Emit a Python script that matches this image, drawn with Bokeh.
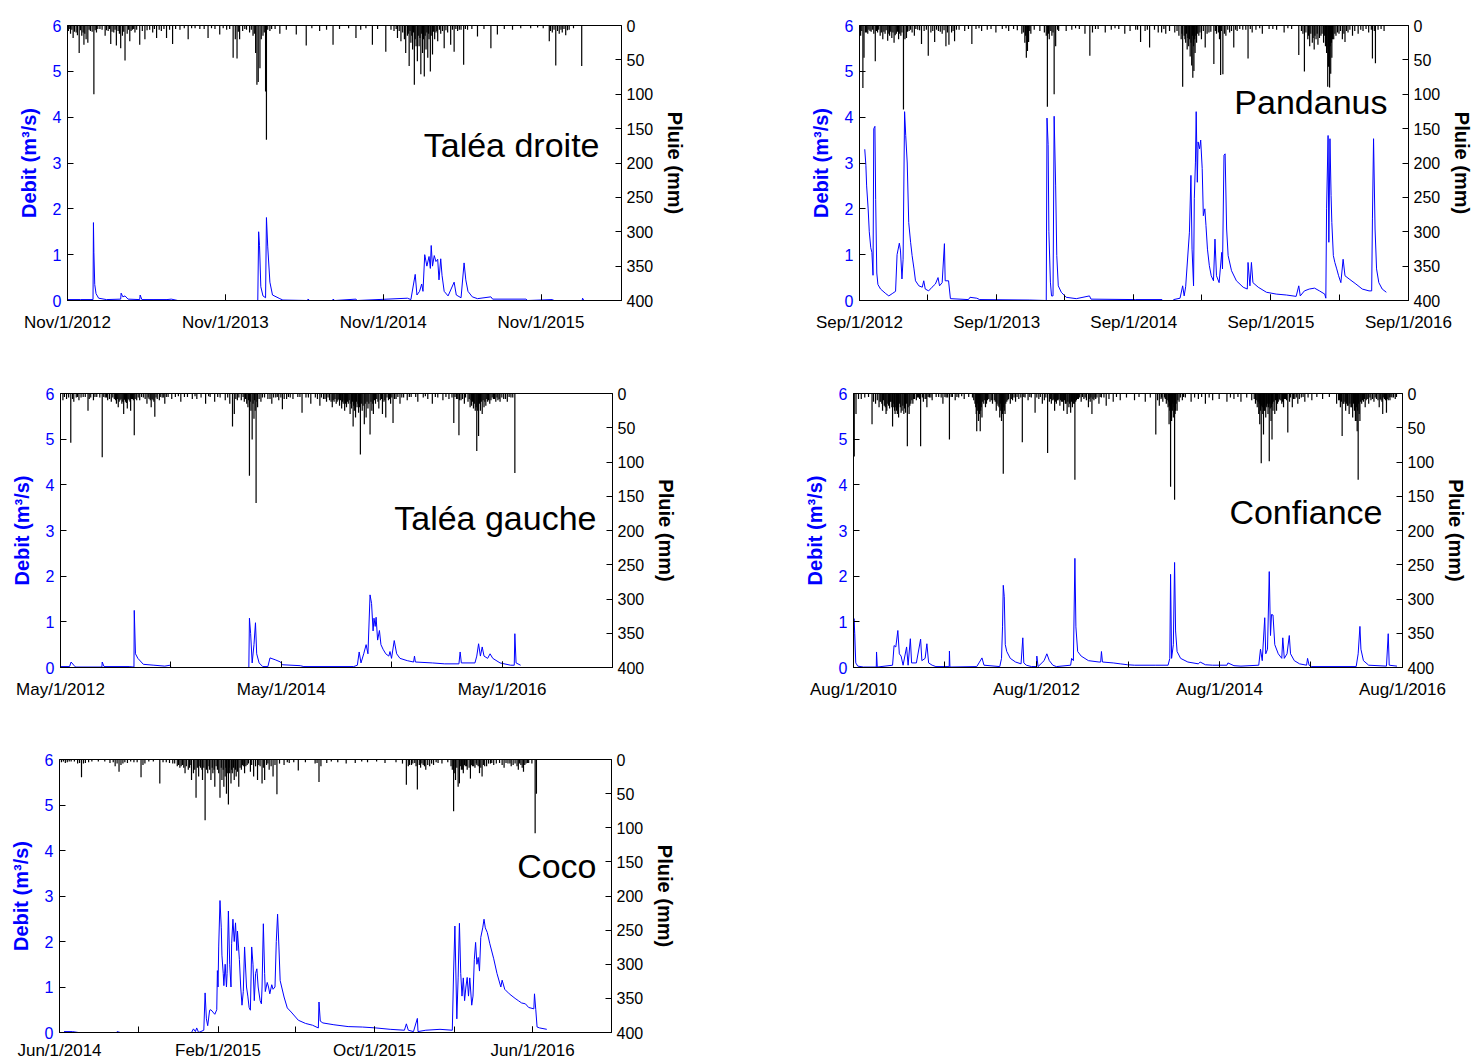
import pandas as pd
from bokeh.plotting import figure
from bokeh.models import Range1d, LinearAxis, FixedTicker, DatetimeTickFormatter, Label
from bokeh.layouts import row, column
from bokeh.embed import file_html
from bokeh.resources import INLINE

FONT = "Liberation Sans"
BLUE = "#0000ff"

# ---------------- DATA (day offset from record start, value) ----------------
stations = ["Taléa droite", "Pandanus", "Taléa gauche", "Confiance", "Coco"]
record_start = ["2012-11-01", "2012-09-01", "2012-05-01", "2010-08-01", "2014-06-01"]

talea_droite_debit = [
    (0, 0.02), (30, 0.02), (59, 0.02), (60, 1.70), (61, 1.05), (63, 0.35), (66, 0.15), (72, 0.05), (90, 0.02),
    (123, 0.03), (124, 0.16), (128, 0.08), (133, 0.10), (140, 0.03), (167, 0.02), (168, 0.12), (172, 0.02),
    (200, 0.02), (230, 0.02), (240, 0.03), (255, 0.0), (440, 0.0), (442, 1.50), (444, 1.20), (447, 0.30),
    (452, 0.10), (458, 0.06), (460, 1.81), (463, 1.17), (468, 0.40), (474, 0.12), (491, 0.04), (498, 0.01),
    (555, 0.0), (556, 0.03), (560, 0.0), (613, 0.0), (614, 0.03), (618, 0.0), (667, 0.03), (670, 0.0),
    (786, 0.05), (794, 0.02), (804, 0.57), (808, 0.12), (814, 0.20), (819, 0.36), (822, 0.20), (826, 1.00),
    (831, 0.75), (836, 0.96), (839, 0.70), (841, 1.20), (844, 0.75), (848, 0.98), (852, 0.85), (856, 0.90),
    (859, 0.45), (863, 0.91), (866, 0.55), (871, 0.20), (880, 0.10), (894, 0.40), (899, 0.12), (910, 0.06),
    (917, 0.82), (921, 0.45), (926, 0.20), (936, 0.08), (948, 0.04), (979, 0.08), (983, 0.03), (1060, 0.03),
    (1064, 0.0), (1121, 0.02), (1125, 0.0), (1190, 0.0), (1191, 0.05), (1194, 0.0),
]
talea_droite_pluie = [
    (2, 8), (4, 5), (7, 12), (10, 6), (13, 18), (16, 9), (20, 10), (23, 14), (27, 40), (30, 7), (33, 15),
    (36, 10), (38, 28), (40, 12), (43, 20), (47, 25), (50, 6), (53, 8), (57, 9), (61, 100), (64, 7), (67, 10),
    (70, 5), (75, 5), (80, 6), (87, 15), (90, 7), (94, 8), (97, 5), (100, 27), (103, 9), (107, 10), (110, 6),
    (113, 29), (117, 8), (120, 12), (123, 33), (127, 15), (130, 9), (133, 51), (138, 12), (141, 6), (144, 23),
    (147, 8), (150, 6), (153, 5), (156, 10), (160, 6), (167, 28), (173, 8), (179, 20), (184, 7), (190, 6),
    (197, 10), (201, 5), (206, 18), (212, 6), (217, 8), (223, 5), (229, 18), (236, 6), (243, 27), (250, 5),
    (260, 6), (270, 4), (279, 20), (287, 4), (295, 4), (306, 5), (316, 5), (325, 18), (333, 4), (341, 5),
    (352, 13), (360, 4), (368, 6), (375, 5), (383, 47), (388, 20), (392, 48), (395, 9), (398, 20), (405, 8),
    (410, 5), (414, 6), (421, 10), (425, 6), (429, 15), (432, 12), (435, 40), (438, 86), (441, 82), (445, 62),
    (448, 20), (452, 15), (455, 10), (458, 96), (460, 166), (463, 6), (468, 8), (472, 5), (480, 5), (491, 12),
    (506, 6), (529, 13), (552, 29), (565, 4), (583, 8), (599, 6), (614, 28), (629, 5), (650, 4), (667, 18),
    (678, 6), (690, 4), (705, 28), (717, 5), (736, 38), (748, 6), (755, 8), (760, 5), (763, 18), (767, 8),
    (771, 23), (775, 10), (779, 20), (782, 40), (786, 15), (788, 12), (790, 59), (792, 8), (794, 25), (796, 15),
    (798, 35), (800, 10), (802, 86), (804, 20), (806, 30), (809, 52), (811, 15), (813, 30), (815, 18),
    (817, 71), (819, 12), (821, 40), (823, 20), (825, 74), (827, 15), (829, 35), (831, 10), (833, 47),
    (835, 12), (836, 20), (839, 67), (841, 15), (844, 42), (846, 9), (849, 20), (852, 10), (854, 8), (856, 23),
    (860, 6), (863, 12), (867, 8), (871, 33), (875, 7), (879, 10), (886, 28), (890, 6), (894, 38), (898, 5),
    (902, 8), (906, 6), (910, 6), (916, 57), (920, 5), (925, 6), (935, 5), (948, 16), (963, 5), (979, 33),
    (994, 13), (1010, 5), (1029, 6), (1048, 4), (1071, 4), (1087, 3), (1100, 4), (1114, 23), (1117, 8),
    (1121, 10), (1125, 6), (1129, 58), (1133, 8), (1137, 12), (1141, 6), (1144, 10), (1148, 5), (1152, 14),
    (1156, 7), (1160, 6), (1170, 4), (1189, 59),
]

pandanus_debit = [
    (14, 3.3), (17, 2.95), (19, 2.5), (23, 2.0), (26, 1.5), (30, 1.15), (33, 1.05), (36, 0.55), (38, 3.75),
    (41, 3.8), (43, 2.2), (46, 0.6), (49, 0.35), (56, 0.25), (70, 0.15), (78, 0.1), (87, 0.15), (96, 0.2),
    (100, 1.0), (106, 1.25), (109, 1.1), (113, 0.47), (116, 0.9), (120, 4.12), (123, 3.6), (127, 3.0),
    (131, 1.7), (136, 1.27), (140, 0.98), (145, 0.69), (149, 0.43), (158, 0.32), (167, 0.29), (171, 0.43),
    (175, 0.25), (184, 0.21), (193, 0.29), (202, 0.36), (209, 0.5), (213, 0.32), (220, 0.39), (226, 1.24),
    (228, 0.43), (237, 0.43), (242, 0.04), (290, 0.02), (294, 0.07), (312, 0.05), (320, 0.02), (453, 0.01),
    (497, 0.0), (499, 3.98), (502, 3.4), (504, 1.5), (508, 0.4), (511, 0.1), (515, 0.1), (518, 4.02),
    (522, 2.5), (525, 0.98), (529, 0.32), (537, 0.18), (550, 0.07), (577, 0.04), (612, 0.1), (616, 0.03),
    (735, 0.02), (805, 0.02), (806, 0.0), (835, 0.0), (836, 0.02), (853, 0.05), (860, 0.32), (864, 0.1),
    (868, 0.3), (878, 1.49), (882, 2.73), (885, 1.12), (889, 0.32), (891, 2.22), (894, 3.02), (896, 4.12),
    (899, 2.58), (901, 3.46), (905, 3.31), (908, 3.5), (912, 2.88), (915, 1.85), (919, 2.0), (922, 1.64),
    (926, 1.12), (931, 0.76), (936, 0.54), (942, 0.43), (946, 1.34), (950, 0.54), (957, 0.39), (964, 1.05),
    (966, 0.69), (970, 3.17), (973, 3.2), (977, 1.56), (981, 0.98), (990, 0.65), (1003, 0.43), (1021, 0.29),
    (1032, 0.25), (1034, 0.83), (1039, 0.32), (1043, 0.83), (1047, 0.39), (1061, 0.29), (1083, 0.18),
    (1109, 0.14), (1136, 0.12), (1162, 0.09), (1169, 0.32), (1173, 0.1), (1184, 0.21), (1197, 0.25),
    (1211, 0.27), (1224, 0.21), (1238, 0.14), (1241, 0.05), (1243, 2.0), (1247, 3.6), (1249, 1.27),
    (1252, 3.53), (1255, 2.29), (1257, 1.7), (1261, 0.98), (1265, 0.83), (1270, 0.69), (1275, 0.54),
    (1281, 0.39), (1287, 0.9), (1292, 0.54), (1303, 0.47), (1321, 0.36), (1338, 0.25), (1356, 0.21),
    (1363, 0.21), (1365, 1.78), (1368, 3.53), (1372, 1.56), (1376, 0.69), (1382, 0.39), (1391, 0.25),
    (1402, 0.18),
]
pandanus_pluie = [
    (3, 15), (6, 8), (9, 91), (12, 47), (16, 10), (19, 10), (22, 12), (25, 6), (28, 8), (31, 9), (35, 6),
    (38, 12), (42, 52), (45, 8), (48, 10), (51, 6), (55, 15), (58, 10), (62, 20), (65, 9), (68, 12), (71, 7),
    (75, 22), (78, 12), (80, 15), (83, 9), (86, 18), (89, 10), (92, 25), (95, 14), (98, 12), (101, 9),
    (104, 20), (107, 12), (110, 15), (113, 10), (117, 122), (121, 20), (125, 18), (128, 9), (132, 8),
    (136, 6), (140, 10), (146, 15), (150, 5), (155, 6), (160, 7), (165, 27), (172, 8), (178, 6), (183, 44),
    (190, 10), (195, 8), (200, 24), (205, 6), (210, 8), (215, 9), (220, 12), (225, 7), (230, 30), (234, 10),
    (238, 28), (245, 10), (249, 8), (253, 23), (258, 6), (265, 6), (280, 8), (290, 5), (299, 27), (310, 5),
    (318, 4), (325, 8), (340, 6), (350, 5), (363, 10), (380, 5), (390, 4), (397, 8), (410, 5), (420, 7),
    (432, 12), (436, 10), (440, 25), (442, 15), (444, 47), (447, 37), (448, 12), (450, 24), (453, 8),
    (456, 12), (465, 6), (480, 8), (492, 10), (497, 15), (500, 118), (503, 12), (505, 20), (509, 8),
    (512, 15), (515, 10), (518, 100), (522, 30), (527, 6), (530, 8), (550, 8), (565, 6), (575, 4), (585, 5),
    (600, 12), (613, 44), (620, 10), (628, 5), (635, 5), (654, 10), (670, 6), (680, 4), (690, 5), (706, 12),
    (720, 8), (735, 6), (740, 6), (748, 24), (760, 8), (766, 6), (772, 32), (785, 6), (795, 10), (804, 10),
    (810, 5), (815, 12), (825, 8), (839, 10), (845, 8), (850, 15), (856, 20), (858, 12), (860, 89), (864, 15),
    (866, 20), (868, 25), (870, 12), (872, 35), (874, 18), (876, 30), (878, 20), (880, 45), (882, 25),
    (884, 58), (886, 15), (887, 76), (889, 30), (890, 66), (892, 20), (893, 40), (895, 15), (897, 25),
    (900, 12), (903, 15), (906, 10), (910, 20), (915, 8), (920, 32), (925, 12), (930, 10), (935, 9),
    (943, 56), (947, 8), (950, 12), (955, 10), (958, 20), (961, 72), (963, 8), (967, 71), (971, 12),
    (975, 15), (980, 6), (985, 10), (990, 8), (996, 32), (1001, 6), (1005, 8), (1012, 5), (1020, 6),
    (1028, 6), (1034, 48), (1040, 5), (1045, 10), (1055, 6), (1065, 4), (1072, 12), (1090, 5), (1100, 5),
    (1110, 6), (1130, 10), (1140, 4), (1150, 5), (1169, 43), (1176, 8), (1180, 12), (1184, 67), (1188, 10),
    (1193, 20), (1195, 15), (1198, 30), (1201, 12), (1205, 25), (1207, 18), (1210, 35), (1212, 15),
    (1215, 20), (1218, 12), (1220, 28), (1224, 18), (1228, 15), (1231, 12), (1235, 25), (1237, 15),
    (1240, 30), (1242, 20), (1243, 40), (1244, 35), (1246, 89), (1248, 60), (1249, 45), (1251, 90),
    (1253, 30), (1254, 70), (1256, 25), (1257, 47), (1259, 20), (1262, 20), (1265, 12), (1268, 15),
    (1272, 10), (1276, 12), (1280, 8), (1285, 20), (1289, 12), (1292, 24), (1296, 8), (1300, 10), (1305, 6),
    (1312, 15), (1318, 8), (1327, 12), (1334, 6), (1340, 8), (1348, 5), (1355, 10), (1362, 6), (1365, 48),
    (1370, 8), (1373, 55), (1380, 6), (1388, 5), (1396, 8),
]

talea_gauche_debit = [
    (0, 0.02), (30, 0.02), (35, 0.12), (44, 0.05), (50, 0.01), (137, 0.01), (138, 0.12), (144, 0.02),
    (227, 0.02), (243, 0.01), (244, 1.25), (248, 0.30), (256, 0.20), (274, 0.07), (309, 0.05), (345, 0.03),
    (362, 0.05), (366, 0.0), (623, 0.0), (625, 1.08), (629, 0.74), (634, 0.1), (640, 0.5), (645, 0.98),
    (649, 0.3), (657, 0.1), (669, 0.02), (686, 0.02), (693, 0.21), (710, 0.17), (728, 0.12), (734, 0.06),
    (793, 0.04), (805, 0.02), (970, 0.02), (982, 0.05), (988, 0.34), (994, 0.1), (1003, 0.3), (1011, 0.5),
    (1017, 0.3), (1024, 1.59), (1029, 1.4), (1034, 0.8), (1037, 1.08), (1041, 0.9), (1044, 1.1), (1049, 0.6),
    (1055, 0.81), (1060, 0.5), (1067, 0.4), (1076, 0.3), (1086, 0.25), (1090, 0.35), (1095, 0.2),
    (1104, 0.59), (1112, 0.3), (1123, 0.2), (1147, 0.15), (1168, 0.12), (1171, 0.25), (1174, 0.12),
    (1230, 0.1), (1271, 0.08), (1318, 0.08), (1322, 0.34), (1326, 0.1), (1371, 0.1), (1377, 0.25),
    (1383, 0.52), (1389, 0.25), (1395, 0.45), (1401, 0.25), (1413, 0.2), (1421, 0.3), (1430, 0.2),
    (1454, 0.1), (1489, 0.05), (1501, 0.05), (1503, 0.74), (1507, 0.1), (1522, 0.05),
]
talea_gauche_pluie = [
    (8, 10), (13, 5), (20, 8), (27, 6), (34, 72), (40, 8), (44, 12), (52, 6), (56, 5), (61, 10), (68, 6),
    (75, 5), (82, 5), (91, 25), (95, 8), (100, 6), (109, 10), (114, 5), (120, 5), (130, 6), (138, 93),
    (143, 5), (148, 6), (152, 6), (156, 10), (162, 8), (168, 12), (173, 6), (178, 8), (182, 10), (185, 15),
    (188, 8), (191, 20), (194, 12), (197, 10), (200, 8), (203, 15), (206, 12), (209, 30), (212, 9), (215, 12),
    (218, 14), (221, 22), (224, 8), (227, 10), (230, 12), (232, 25), (235, 8), (238, 8), (241, 10), (244, 61),
    (247, 8), (252, 10), (257, 6), (262, 10), (268, 5), (274, 6), (280, 8), (286, 15), (290, 6), (293, 8),
    (297, 10), (300, 20), (303, 8), (306, 10), (309, 12), (312, 34), (316, 6), (320, 8), (327, 10), (330, 5),
    (336, 6), (340, 6), (345, 15), (350, 5), (356, 5), (368, 8), (380, 5), (390, 4), (398, 12), (410, 5),
    (420, 5), (436, 8), (445, 4), (451, 8), (465, 6), (480, 15), (490, 4), (495, 5), (510, 12), (520, 5),
    (528, 6), (545, 10), (553, 6), (560, 15), (569, 48), (575, 30), (580, 8), (585, 10), (590, 6), (598, 10),
    (604, 5), (608, 12), (612, 8), (616, 15), (620, 20), (622, 10), (625, 120), (628, 12), (630, 25),
    (634, 67), (637, 15), (640, 37), (642, 10), (644, 25), (647, 160), (650, 12), (652, 20), (657, 8),
    (663, 12), (668, 6), (675, 6), (686, 8), (693, 8), (699, 15), (705, 6), (712, 6), (717, 5), (722, 10),
    (729, 6), (734, 23), (740, 8), (748, 8), (754, 5), (760, 6), (769, 8), (785, 5), (792, 5), (799, 28),
    (812, 6), (820, 6), (828, 15), (843, 6), (850, 8), (858, 18), (863, 6), (870, 8), (875, 8), (880, 12),
    (885, 6), (890, 10), (895, 12), (899, 20), (902, 10), (905, 12), (908, 8), (912, 15), (915, 12), (918, 10),
    (921, 8), (923, 18), (926, 10), (930, 22), (933, 12), (935, 15), (938, 10), (940, 25), (943, 15),
    (946, 20), (949, 12), (952, 15), (955, 10), (958, 30), (961, 15), (963, 22), (966, 12), (968, 48),
    (970, 18), (972, 25), (974, 15), (976, 35), (979, 12), (981, 20), (984, 15), (986, 28), (989, 20),
    (992, 89), (995, 15), (998, 25), (1001, 18), (1005, 45), (1008, 15), (1011, 35), (1014, 12), (1017, 22),
    (1020, 15), (1024, 60), (1027, 12), (1030, 25), (1033, 15), (1035, 30), (1039, 10), (1042, 15),
    (1046, 8), (1050, 12), (1053, 22), (1058, 10), (1062, 8), (1065, 30), (1070, 12), (1073, 10), (1076, 35),
    (1080, 6), (1085, 10), (1088, 8), (1092, 15), (1096, 6), (1100, 43), (1105, 8), (1110, 8), (1116, 5),
    (1123, 15), (1129, 6), (1135, 6), (1147, 10), (1154, 5), (1160, 5), (1175, 5), (1182, 12), (1200, 6),
    (1207, 4), (1215, 8), (1230, 15), (1240, 5), (1248, 6), (1265, 10), (1275, 5), (1285, 8), (1295, 6),
    (1301, 43), (1305, 5), (1310, 8), (1314, 8), (1318, 61), (1320, 10), (1325, 10), (1330, 8), (1336, 15),
    (1340, 6), (1348, 12), (1352, 8), (1355, 20), (1358, 10), (1360, 18), (1363, 12), (1366, 22), (1369, 15),
    (1372, 25), (1375, 20), (1377, 84), (1380, 25), (1383, 62), (1386, 15), (1389, 25), (1392, 12),
    (1395, 30), (1398, 10), (1401, 20), (1404, 12), (1407, 18), (1410, 8), (1413, 12), (1416, 10),
    (1420, 15), (1424, 10), (1428, 6), (1432, 8), (1436, 8), (1440, 12), (1444, 6), (1447, 10), (1451, 8),
    (1454, 12), (1460, 6), (1466, 8), (1472, 8), (1478, 12), (1484, 5), (1490, 6), (1496, 6), (1503, 116),
]

confiance_debit = [
    (0, 0.1), (2, 1.07), (5, 0.74), (9, 0.1), (17, 0.03), (40, 0.01), (91, 0.01), (92, 0.34), (95, 0.01),
    (156, 0.05), (162, 0.48), (169, 0.45), (177, 0.81), (183, 0.3), (190, 0.25), (198, 0.05), (212, 0.45),
    (218, 0.05), (227, 0.63), (232, 0.1), (251, 0.1), (268, 0.62), (273, 0.15), (286, 0.2), (293, 0.52),
    (300, 0.1), (314, 0.05), (329, 0.02), (382, 0.02), (383, 0.36), (385, 0.01), (492, 0.02), (501, 0.1),
    (513, 0.21), (521, 0.05), (584, 0.02), (591, 0.2), (595, 0.89), (598, 1.8), (602, 1.55), (606, 0.5),
    (612, 0.35), (626, 0.2), (647, 0.12), (669, 0.08), (676, 0.65), (680, 0.1), (690, 0.05), (711, 0.02),
    (731, 0.02), (732, 0.25), (737, 0.02), (761, 0.15), (772, 0.3), (782, 0.15), (796, 0.05), (810, 0.02),
    (867, 0.05), (871, 0.2), (878, 0.15), (884, 2.39), (888, 0.89), (895, 0.35), (909, 0.25), (938, 0.15),
    (980, 0.12), (987, 0.12), (990, 0.35), (994, 0.12), (1037, 0.1), (1065, 0.08), (1094, 0.06), (1122, 0.05),
    (1207, 0.05), (1256, 0.05), (1263, 0.2), (1266, 2.04), (1270, 0.2), (1277, 0.5), (1282, 2.3), (1286, 0.8),
    (1292, 0.35), (1306, 0.2), (1335, 0.12), (1377, 0.08), (1384, 0.12), (1405, 0.06), (1434, 0.05),
    (1491, 0.05), (1495, 0.1), (1519, 0.04), (1547, 0.03), (1618, 0.05), (1625, 0.4), (1632, 0.15),
    (1642, 1.09), (1646, 0.3), (1653, 0.4), (1660, 2.1), (1665, 0.7), (1669, 1.16), (1675, 1.15), (1682, 0.5),
    (1696, 0.3), (1710, 0.2), (1714, 0.65), (1720, 0.2), (1731, 0.3), (1740, 0.7), (1745, 0.3), (1760, 0.15),
    (1781, 0.08), (1809, 0.05), (1813, 0.2), (1819, 0.05), (1830, 0.02), (2007, 0.02), (2015, 0.3),
    (2022, 0.9), (2026, 0.4), (2036, 0.15), (2057, 0.05), (2128, 0.03), (2135, 0.74), (2139, 0.05),
    (2170, 0.03),
]
confiance_pluie = [
    (3, 92), (10, 30), (20, 8), (31, 8), (45, 6), (60, 5), (74, 45), (80, 12), (88, 15), (95, 10), (102, 20),
    (106, 12), (109, 12), (113, 15), (116, 25), (120, 10), (123, 18), (127, 20), (130, 30), (133, 25),
    (137, 15), (140, 18), (144, 22), (147, 12), (150, 12), (153, 20), (156, 48), (158, 15), (161, 20),
    (164, 25), (166, 30), (169, 20), (172, 25), (175, 30), (177, 22), (180, 35), (183, 15), (187, 20),
    (190, 28), (194, 25), (197, 18), (201, 30), (204, 22), (208, 28), (211, 15), (215, 77), (218, 20),
    (222, 30), (225, 18), (229, 15), (233, 10), (237, 15), (240, 8), (244, 8), (251, 10), (256, 6), (260, 6),
    (264, 8), (268, 77), (275, 6), (279, 12), (286, 8), (290, 8), (293, 20), (298, 5), (303, 6), (309, 6),
    (314, 10), (330, 5), (340, 5), (350, 6), (357, 15), (365, 5), (370, 6), (376, 6), (383, 67), (390, 5),
    (395, 5), (406, 10), (413, 5), (420, 6), (432, 4), (442, 8), (460, 5), (475, 6), (480, 10), (485, 15),
    (488, 20), (490, 30), (492, 55), (494, 15), (496, 25), (499, 40), (501, 20), (503, 30), (506, 55),
    (508, 25), (510, 20), (513, 35), (516, 12), (520, 15), (524, 10), (527, 20), (531, 15), (535, 10),
    (540, 8), (545, 12), (550, 10), (555, 15), (562, 10), (566, 12), (570, 25), (573, 15), (577, 18),
    (581, 20), (584, 35), (586, 15), (588, 25), (591, 40), (593, 25), (595, 30), (598, 117), (600, 20),
    (602, 25), (605, 30), (608, 15), (612, 12), (616, 10), (619, 8), (626, 15), (630, 8), (635, 10), (641, 6),
    (647, 12), (653, 5), (660, 8), (668, 6), (674, 71), (680, 5), (685, 6), (697, 10), (704, 5), (710, 6),
    (725, 28), (732, 6), (740, 8), (746, 5), (754, 15), (762, 10), (768, 6), (775, 87), (782, 12), (786, 8),
    (790, 15), (793, 10), (797, 10), (800, 8), (803, 25), (807, 12), (810, 15), (814, 10), (817, 10),
    (820, 8), (824, 18), (827, 10), (831, 12), (835, 12), (839, 25), (842, 10), (846, 15), (849, 15),
    (853, 30), (856, 12), (860, 20), (863, 15), (867, 28), (870, 12), (874, 20), (877, 10), (879, 15),
    (882, 15), (884, 126), (887, 12), (890, 10), (894, 8), (898, 8), (903, 6), (909, 12), (914, 5), (920, 8),
    (925, 6), (930, 10), (938, 20), (941, 8), (945, 12), (948, 6), (952, 30), (956, 8), (960, 10), (964, 6),
    (967, 8), (972, 6), (980, 15), (985, 5), (990, 6), (1000, 6), (1009, 18), (1020, 8), (1037, 12), (1050, 5),
    (1065, 10), (1090, 6), (1122, 10), (1140, 5), (1165, 12), (1185, 6), (1207, 60), (1214, 10), (1221, 18),
    (1228, 8), (1230, 6), (1235, 12), (1242, 6), (1245, 8), (1249, 15), (1252, 10), (1256, 20), (1258, 12),
    (1260, 45), (1261, 18), (1263, 25), (1264, 15), (1266, 136), (1268, 20), (1270, 40), (1272, 12),
    (1273, 25), (1275, 15), (1277, 35), (1280, 20), (1282, 155), (1284, 30), (1286, 25), (1288, 15),
    (1292, 25), (1295, 10), (1300, 12), (1305, 6), (1313, 10), (1318, 5), (1325, 6), (1348, 12), (1362, 6),
    (1377, 8), (1390, 5), (1405, 15), (1420, 6), (1434, 10), (1460, 8), (1491, 12), (1505, 6), (1519, 8),
    (1535, 5), (1547, 12), (1570, 6), (1590, 10), (1600, 8), (1605, 15), (1608, 10), (1612, 20), (1615, 12),
    (1618, 30), (1620, 15), (1622, 45), (1625, 25), (1628, 102), (1630, 18), (1632, 20), (1634, 30),
    (1637, 60), (1639, 20), (1641, 25), (1643, 25), (1646, 35), (1648, 18), (1650, 20), (1652, 15),
    (1655, 30), (1657, 20), (1660, 99), (1662, 15), (1664, 22), (1667, 40), (1669, 20), (1671, 67),
    (1673, 15), (1675, 25), (1678, 12), (1682, 30), (1685, 10), (1689, 25), (1693, 15), (1696, 12),
    (1700, 8), (1703, 10), (1707, 10), (1710, 15), (1713, 12), (1717, 20), (1721, 8), (1725, 8), (1729, 10),
    (1734, 57), (1741, 12), (1745, 6), (1752, 20), (1757, 8), (1762, 8), (1768, 6), (1774, 15), (1780, 8),
    (1788, 6), (1795, 5), (1802, 12), (1815, 6), (1830, 10), (1850, 5), (1873, 8), (1900, 5), (1929, 15),
    (1937, 10), (1940, 10), (1944, 20), (1948, 12), (1951, 62), (1955, 15), (1958, 15), (1962, 12),
    (1965, 25), (1969, 15), (1972, 18), (1975, 18), (1979, 30), (1982, 15), (1986, 20), (1989, 20),
    (1993, 35), (1996, 15), (2000, 25), (2002, 18), (2004, 40), (2007, 40), (2009, 20), (2011, 55),
    (2013, 25), (2015, 126), (2017, 15), (2019, 30), (2022, 40), (2025, 12), (2029, 15), (2032, 10),
    (2036, 12), (2040, 8), (2043, 20), (2047, 10), (2050, 8), (2054, 8), (2057, 15), (2062, 6), (2066, 10),
    (2072, 8), (2078, 12), (2083, 6), (2088, 8), (2094, 10), (2099, 20), (2103, 8), (2106, 10), (2110, 12),
    (2113, 30), (2117, 6), (2120, 8), (2124, 10), (2128, 28), (2131, 8), (2135, 10), (2139, 6), (2142, 10),
    (2146, 5), (2150, 6), (2156, 6), (2163, 8), (2168, 5),
]

coco_debit = [
    (7, 0.02), (20, 0.02), (29, 0.0), (88, 0.0), (89, 0.02), (94, 0.0), (204, 0.0), (207, 0.08), (210, 0.02),
    (212, 0.1), (215, 0.0), (223, 0.05), (225, 0.87), (227, 0.3), (229, 0.15), (232, 0.49), (234, 0.5),
    (237, 0.45), (240, 0.4), (243, 0.5), (244, 1.36), (245, 1.0), (246, 1.88), (248, 2.9), (250, 2.3),
    (251, 1.7), (253, 1.3), (254, 1.03), (256, 1.5), (258, 1.0), (259, 1.3), (261, 2.67), (263, 1.5),
    (265, 1.0), (266, 1.95), (268, 2.49), (270, 2.0), (272, 2.41), (274, 1.8), (275, 2.23), (278, 1.6),
    (280, 1.0), (282, 0.6), (284, 0.9), (286, 1.88), (289, 1.0), (291, 0.8), (293, 0.55), (295, 0.49),
    (297, 1.88), (299, 1.5), (301, 0.7), (303, 1.3), (305, 1.4), (307, 1.0), (310, 0.7), (312, 0.63),
    (313, 1.0), (315, 2.39), (317, 1.3), (318, 0.9), (321, 1.1), (323, 1.0), (325, 0.85), (328, 1.05),
    (330, 0.95), (333, 1.0), (335, 2.0), (337, 2.6), (339, 1.9), (341, 1.14), (347, 0.78), (352, 0.54),
    (358, 0.45), (369, 0.27), (380, 0.2), (391, 0.16), (400, 0.1), (401, 0.67), (403, 0.25), (407, 0.21),
    (424, 0.17), (446, 0.13), (468, 0.12), (489, 0.1), (511, 0.07), (533, 0.05), (536, 0.19), (539, 0.05),
    (547, 0.02), (553, 0.31), (554, 0.02), (566, 0.05), (588, 0.07), (607, 0.05), (609, 1.33), (611, 2.34),
    (614, 0.3), (616, 1.2), (618, 2.4), (620, 1.3), (622, 0.8), (624, 1.2), (626, 0.7), (628, 1.0),
    (630, 1.21), (632, 0.8), (634, 1.2), (637, 0.6), (639, 0.8), (641, 1.6), (643, 1.98), (645, 1.5),
    (647, 1.65), (649, 1.35), (651, 2.09), (654, 2.3), (656, 2.49), (658, 2.3), (661, 2.2), (665, 1.95),
    (671, 1.62), (676, 1.3), (682, 1.0), (684, 1.15), (688, 0.95), (695, 0.85), (704, 0.75), (709, 0.7),
    (714, 0.65), (720, 0.63), (725, 0.55), (733, 0.52), (734, 0.85), (736, 0.5), (738, 0.12), (742, 0.1),
    (753, 0.07),
]
coco_pluie = [
    (3, 4), (6, 3), (9, 5), (12, 4), (15, 3), (18, 3), (23, 3), (28, 6), (31, 5), (34, 26), (37, 6), (40, 5),
    (45, 4), (50, 3), (60, 3), (70, 3), (78, 5), (83, 4), (86, 10), (89, 6), (92, 18), (95, 8), (98, 6),
    (101, 4), (105, 5), (110, 3), (115, 4), (120, 4), (126, 26), (129, 8), (132, 6), (138, 3), (145, 3),
    (155, 35), (160, 4), (165, 4), (170, 5), (175, 6), (178, 6), (182, 10), (184, 8), (186, 12), (188, 10),
    (190, 8), (192, 12), (194, 20), (196, 10), (199, 15), (201, 12), (203, 8), (204, 30), (207, 20),
    (209, 15), (211, 56), (213, 12), (215, 25), (217, 10), (218, 12), (220, 15), (221, 30), (223, 12),
    (225, 89), (227, 15), (229, 20), (231, 10), (232, 15), (234, 30), (236, 12), (237, 20), (239, 15),
    (240, 40), (242, 10), (244, 15), (246, 20), (248, 56), (250, 12), (251, 30), (253, 15), (254, 40),
    (256, 25), (257, 12), (258, 50), (260, 20), (261, 66), (262, 12), (263, 20), (265, 35), (266, 15),
    (267, 20), (269, 12), (270, 30), (272, 15), (273, 25), (275, 18), (277, 40), (279, 12), (281, 15),
    (283, 8), (284, 10), (286, 20), (288, 10), (290, 8), (292, 6), (295, 18), (297, 8), (300, 25), (303, 10),
    (306, 30), (308, 8), (310, 10), (313, 35), (315, 12), (317, 30), (320, 8), (322, 6), (324, 15), (327, 10),
    (330, 25), (333, 8), (336, 51), (340, 6), (347, 8), (352, 4), (355, 5), (362, 4), (369, 16), (380, 4),
    (395, 6), (398, 5), (401, 33), (404, 10), (413, 5), (420, 3), (430, 4), (443, 6), (457, 5), (467, 3),
    (476, 4), (490, 3), (503, 5), (520, 4), (530, 6), (536, 37), (539, 10), (541, 8), (544, 8), (546, 6),
    (549, 5), (551, 10), (553, 44), (556, 8), (558, 12), (560, 6), (562, 8), (564, 10), (566, 15), (569, 8),
    (572, 10), (575, 6), (578, 8), (582, 4), (585, 5), (591, 6), (600, 4), (605, 10), (607, 15), (609, 76),
    (610, 20), (612, 30), (614, 12), (616, 40), (618, 35), (620, 10), (621, 15), (623, 15), (624, 20),
    (626, 8), (627, 10), (629, 10), (630, 15), (633, 12), (635, 28), (637, 8), (638, 10), (640, 10), (642, 12),
    (644, 6), (645, 8), (647, 10), (649, 20), (651, 12), (653, 25), (655, 8), (657, 10), (660, 10), (663, 6),
    (666, 6), (668, 5), (671, 8), (675, 6), (680, 5), (684, 8), (687, 12), (690, 5), (693, 6), (696, 6),
    (698, 10), (701, 8), (704, 6), (707, 10), (709, 15), (711, 6), (713, 8), (715, 12), (717, 18), (719, 8),
    (721, 6), (723, 5), (725, 5), (730, 6), (735, 108), (737, 50),
]

# axis extents and tick dates
x_limits = [("2012-11-01", "2016-05-05"), ("2012-09-01", "2016-09-01"), ("2012-05-01", "2017-05-01"),
            ("2010-08-01", "2016-08-01"), ("2014-06-01", "2016-10-01")]
x_labels = [
    ["2012-11-01", "2013-11-01", "2014-11-01", "2015-11-01"],
    ["2012-09-01", "2013-09-01", "2014-09-01", "2015-09-01", "2016-09-01"],
    ["2012-05-01", "2014-05-01", "2016-05-01"],
    ["2010-08-01", "2012-08-01", "2014-08-01", "2016-08-01"],
    ["2014-06-01", "2015-02-01", "2015-10-01", "2016-06-01"],
]
x_minor = [
    ["2012-11-01", "2013-11-01", "2014-11-01", "2015-11-01"],
    ["2013-03-01", "2014-03-01", "2015-03-01", "2016-03-01", "2013-09-01", "2014-09-01", "2015-09-01"],
    ["2013-05-01", "2014-05-01", "2015-05-01", "2016-05-01"],
    ["2011-08-01", "2012-08-01", "2013-08-01", "2014-08-01", "2015-08-01"],
    ["2014-10-01", "2015-02-01", "2015-06-01", "2015-10-01", "2016-02-01", "2016-06-01"],
]
debit_ticks = [0, 1, 2, 3, 4, 5, 6]
pluie_ticks = [0, 50, 100, 150, 200, 250, 300, 350, 400]


def ms(s):
    return pd.Timestamp(s).value / 1e6


def unzip(pairs, start):
    days = [d for d, _ in pairs]
    vals = [v for _, v in pairs]
    dates = pd.Timestamp(start) + pd.to_timedelta(days, unit="D")
    return dates, vals


def panel(i, debit, pluie, size, borders, title_y, title_dx, x_standoff):
    w, h = size
    bl, br, bt, bb = borders
    x0, x1 = x_limits[i]
    p = figure(width=w, height=h, x_axis_type="datetime", title=None,
               x_range=Range1d(ms(x0), ms(x1)), y_range=Range1d(0, 6),
               output_backend="svg", toolbar_location=None,
               min_border_left=bl, min_border_right=br, min_border_top=bt, min_border_bottom=bb)
    p.xgrid.visible = False
    p.ygrid.visible = False
    p.outline_line_color = "black"
    p.outline_line_width = 1
    p.background_fill_color = "white"
    p.border_fill_color = "white"
    p.extra_y_ranges = {"rain": Range1d(400, 0)}

    # rain bars hanging from top
    pd_dates, pd_vals = unzip(pluie, record_start[i])
    p.segment(x0=pd_dates, y0=[0] * len(pd_vals), x1=pd_dates, y1=pd_vals,
              y_range_name="rain", line_color="black", line_width=1.2)
    # discharge
    q_dates, q_vals = unzip(debit, record_start[i])
    p.line(x=q_dates, y=q_vals, line_color=BLUE, line_width=1)

    # x axis
    xa = p.xaxis[0]
    xa.ticker = FixedTicker(ticks=[ms(d) for d in x_labels[i]], minor_ticks=[ms(d) for d in x_minor[i]])
    fmt = "%b/1/%Y"
    xa.formatter = DatetimeTickFormatter(microseconds=fmt, milliseconds=fmt, seconds=fmt, minsec=fmt,
                                         minutes=fmt, hourmin=fmt, hours=fmt, days=fmt, months=fmt, years=fmt)
    xa.major_tick_in = 6
    xa.major_tick_out = 0
    xa.minor_tick_in = 6
    xa.minor_tick_out = 0
    xa.major_label_text_font = FONT
    xa.major_label_text_font_size = "17px"
    xa.major_label_text_color = "black"
    xa.major_label_standoff = x_standoff
    xa.axis_line_color = "black"
    xa.major_tick_line_color = "black"
    xa.minor_tick_line_color = "black"

    # left axis
    ya = p.yaxis[0]
    ya.ticker = FixedTicker(ticks=debit_ticks)
    ya.major_tick_in = 6
    ya.major_tick_out = 0
    ya.minor_tick_in = 0
    ya.minor_tick_out = 0
    ya.major_label_text_font = FONT
    ya.major_label_text_font_size = "16px"
    ya.major_label_text_color = BLUE
    ya.major_label_standoff = 6
    ya.axis_label = "Debit (m³/s)"
    ya.axis_label_text_font = FONT
    ya.axis_label_text_font_size = "20px"
    ya.axis_label_text_font_style = "bold"
    ya.axis_label_text_color = BLUE
    ya.axis_label_standoff = 10
    ya.axis_line_color = "black"

    # right axis
    ra = LinearAxis(y_range_name="rain", ticker=FixedTicker(ticks=pluie_ticks))
    ra.major_tick_in = 6
    ra.major_tick_out = 0
    ra.minor_tick_in = 0
    ra.minor_tick_out = 0
    ra.major_label_text_font = FONT
    ra.major_label_text_font_size = "16px"
    ra.major_label_text_color = "black"
    ra.major_label_standoff = 5
    ra.axis_label = "Pluie (mm)"
    ra.axis_label_text_font = FONT
    ra.axis_label_text_font_size = "20px"
    ra.axis_label_text_font_style = "bold"
    ra.axis_label_text_color = "black"
    ra.axis_label_standoff = 8
    ra.axis_line_color = "black"
    p.add_layout(ra, "right")

    p.add_layout(Label(x=ms(x1), y=title_y, x_offset=-title_dx, text=stations[i],
                       text_align="right", text_baseline="alphabetic",
                       text_font=FONT, text_font_size="34px", text_color="black"))
    return p


f1 = panel(0, talea_droite_debit, talea_droite_pluie, (800, 342), (67, 179, 25, 42), 3.39, 22, 12)
f2 = panel(1, pandanus_debit, pandanus_pluie, (676, 342), (59, 64, 25, 42), 4.33, 21, 12)
f3 = panel(2, talea_gauche_debit, talea_gauche_pluie, (800, 368), (60, 188, 51, 43), 3.27, 16, 12)
f4 = panel(3, confiance_debit, confiance_pluie, (676, 368), (51, 74, 51, 43), 3.40, 20, 12)
f5 = panel(4, coco_debit, coco_pluie, (800, 352), (59, 189, 49, 28), 3.66, 15, 8)

layout = column(row(f1, f2), row(f3, f4), row(f5))
open("out.html", "w").write(file_html(layout, INLINE))
